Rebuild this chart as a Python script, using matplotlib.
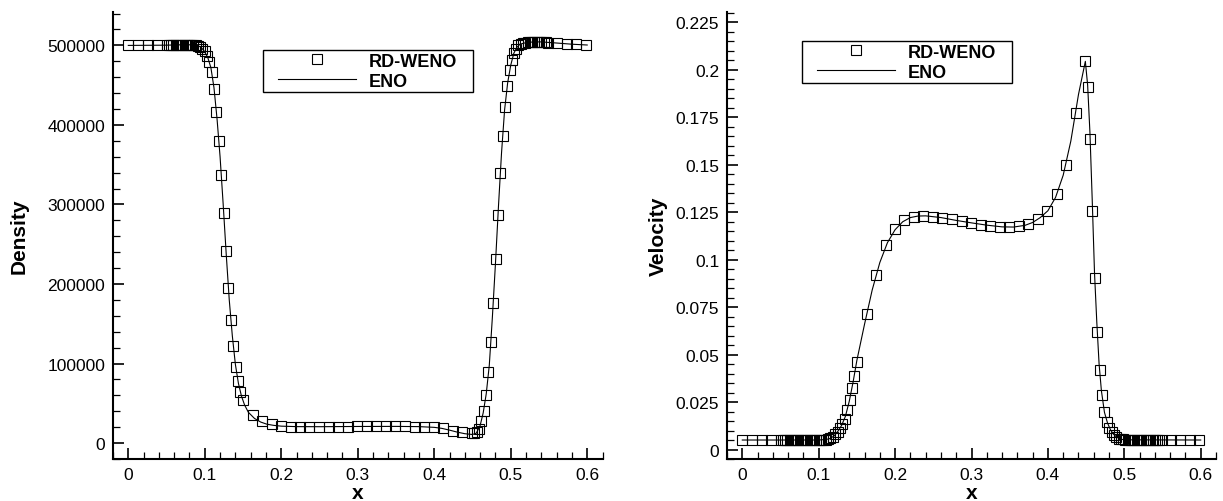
import matplotlib
matplotlib.use("Agg")
import matplotlib.pyplot as plt
from matplotlib.ticker import MultipleLocator, FuncFormatter
from matplotlib.legend_handler import HandlerLine2D
from matplotlib.lines import Line2D

plt.rcParams['font.family'] = ['Liberation Sans', 'DejaVu Sans']

# ---- RD-WENO solution at the cell centres (same mesh for both fields) ----
x_rdweno = [
    0.0, 0.0126, 0.0253, 0.038,
    0.0503, 0.0532, 0.0561, 0.059, 0.0619, 0.0648, 0.0677, 0.0706, 0.0735,
    0.0764, 0.0793, 0.0822, 0.0851, 0.088, 0.0909,
    0.0939, 0.0969, 0.0999, 0.103, 0.106, 0.109, 0.112, 0.1152, 0.1183,
    0.1215, 0.1247, 0.1278, 0.1309, 0.134, 0.1373, 0.1404, 0.1435, 0.1465, 0.1496,
    0.1626, 0.1752, 0.1878, 0.2, 0.2122, 0.2245, 0.2368, 0.2494, 0.262, 0.2744,
    0.287, 0.2992, 0.3118, 0.3243, 0.3367, 0.3492, 0.3618, 0.3744, 0.3867,
    0.3993, 0.412, 0.4243, 0.4368,
    0.449, 0.4522, 0.4553, 0.4583, 0.4613, 0.4645, 0.4677, 0.4708, 0.474,
    0.4772, 0.4803, 0.4834, 0.4864, 0.4894, 0.4924, 0.4955, 0.4985, 0.5015,
    0.5042, 0.507, 0.51,
    0.513, 0.516, 0.519, 0.522, 0.525, 0.528, 0.531, 0.534, 0.537, 0.54,
    0.543, 0.546, 0.549,
    0.5605, 0.573, 0.5855, 0.598,
]

density_rdweno = [
    500000, 500000, 500000, 500200,
    500300, 500400, 500500, 500600, 500700, 500800, 500900, 501000, 501000,
    501000, 500900, 500700, 500400, 500000, 499400,
    498300, 496000, 492500, 487000, 479500, 466000, 445000, 416000, 380000,
    337000, 289000, 241000, 195000, 154500, 121800, 96000, 77700, 64600, 54500,
    35600, 27700, 24300, 21400, 20800, 20500, 20500, 20600, 20700, 20800,
    20800, 20900, 21000, 21000, 21000, 21000, 20900, 20700, 20300,
    19700, 18500, 15800, 13400,
    12200, 12600, 14200, 17600, 28100, 40300, 60500, 89000, 127600,
    176000, 231000, 287000, 340000, 386000, 422000, 449000, 468500, 481500,
    490800, 496000, 500000,
    501500, 502500, 503300, 503800, 504200, 504400, 504500, 504500, 504400, 504200,
    504000, 503700, 503400,
    503000, 502000, 501200, 500600,
]

velocity_rdweno = [
    0.005, 0.005, 0.005, 0.005,
    0.005, 0.005, 0.005, 0.005, 0.005, 0.005, 0.005, 0.005, 0.005,
    0.005, 0.005, 0.005, 0.005, 0.005, 0.005,
    0.005, 0.005, 0.005, 0.005, 0.0051, 0.0052, 0.0055, 0.006, 0.0068,
    0.008, 0.0094, 0.0111, 0.0133, 0.0163, 0.0206, 0.0261, 0.0322, 0.0389, 0.0462,
    0.0713, 0.0921, 0.1075, 0.1163, 0.1207, 0.1225, 0.123, 0.1227, 0.1219, 0.1212,
    0.1203, 0.1194, 0.1185, 0.1178, 0.1173, 0.1173, 0.1177, 0.1189, 0.1212,
    0.1258, 0.1344, 0.1501, 0.1774,
    0.2045, 0.1912, 0.1635, 0.1259, 0.0904, 0.062, 0.0418, 0.0285, 0.0196,
    0.0144, 0.0111, 0.0092, 0.0078, 0.0065, 0.0058, 0.0055, 0.0053, 0.0052,
    0.0051, 0.005, 0.005,
    0.005, 0.005, 0.005, 0.005, 0.005, 0.005, 0.005, 0.005, 0.005, 0.005,
    0.005, 0.005, 0.005,
    0.005, 0.005, 0.005, 0.005,
]

# ---- ENO reference solution ----
x_eno_density = [
    0, 0.05, 0.075, 0.085, 0.09, 0.095, 0.1, 0.104, 0.108, 0.112,
    0.116, 0.12, 0.124, 0.128, 0.132, 0.136, 0.14, 0.144, 0.148, 0.152,
    0.157, 0.165, 0.173, 0.181, 0.19, 0.2, 0.22, 0.25, 0.3, 0.35,
    0.38, 0.4, 0.41, 0.42, 0.43, 0.44, 0.45, 0.455, 0.46, 0.464,
    0.468, 0.472, 0.476, 0.48, 0.484, 0.488, 0.492, 0.496, 0.5, 0.504,
    0.508, 0.512, 0.52, 0.53, 0.54, 0.56, 0.58, 0.6,
]
density_eno = [
    500000, 500300, 500900, 500600, 500000, 497800, 492000, 484500, 472000, 447000,
    408000, 360000, 301000, 238000, 180000, 135000, 99000, 75000, 59000, 48000,
    38700, 31000, 26500, 23800, 22300, 21300, 20700, 20600, 20900, 21000,
    20700, 19800, 18500, 16300, 13800, 11800, 10800, 12500, 22000, 38000,
    62000, 98000, 158000, 225000, 298000, 365000, 419000, 453000, 475000, 490000,
    497500, 501500, 503500, 504400, 504400, 503000, 501500, 500500,
]

x_eno_velocity = [
    0, 0.1, 0.11, 0.115, 0.12, 0.125, 0.13, 0.135, 0.14, 0.145,
    0.15, 0.16, 0.17, 0.18, 0.19, 0.2, 0.21, 0.22, 0.23, 0.24,
    0.26, 0.28, 0.3, 0.32, 0.34, 0.355, 0.37, 0.38, 0.39, 0.4,
    0.41, 0.42, 0.43, 0.44, 0.449, 0.452, 0.455, 0.458, 0.461, 0.464,
    0.467, 0.47, 0.474, 0.478, 0.482, 0.486, 0.49, 0.495, 0.5, 0.6,
]
velocity_eno = [
    0.005, 0.005, 0.0053, 0.0058, 0.0071, 0.0095, 0.0127, 0.0175, 0.0254, 0.0355,
    0.047, 0.066, 0.084, 0.0985, 0.109, 0.1158, 0.12, 0.1222, 0.123, 0.1231,
    0.1222, 0.1207, 0.1194, 0.1182, 0.1173, 0.1172, 0.1181, 0.1196, 0.1222, 0.1258,
    0.1328, 0.1445, 0.1625, 0.187, 0.2045, 0.192, 0.167, 0.1315, 0.093, 0.067,
    0.045, 0.031, 0.0196, 0.014, 0.0103, 0.008, 0.0065, 0.0055, 0.0051, 0.005,
]

x_ticks = [0, 0.1, 0.2, 0.3, 0.4, 0.5, 0.6]
density_ticks = [0, 100000, 200000, 300000, 400000, 500000]
velocity_ticks = [0, 0.025, 0.05, 0.075, 0.1, 0.125, 0.15, 0.175, 0.2, 0.225]

W, H = 1223, 502
fig = plt.figure(figsize=(W / 100, H / 100), dpi=100)


def px_axes(x0, x1, ytop, ybot):
    return fig.add_axes([x0 / W, 1 - ybot / H, (x1 - x0) / W, (ybot - ytop) / H])


ax1 = px_axes(113, 602.5, 13, 460)
ax2 = px_axes(727, 1216, 13, 460)

fmt = FuncFormatter(lambda v, p: '%g' % v)


def style(ax, yticks, yminor, ylim, ylabel, label_x, legend_box):
    m, = ax.plot(x_rdweno, yvals[ax], ls='none', marker='s', ms=6.6,
                 mfc='none', mec='black', mew=0.8, label='RD-WENO')
    l, = ax.plot(eno_x[ax], eno_y[ax], color='black', lw=0.8, label='ENO')
    ax.set_xlim(-0.02, 0.62)
    ax.set_ylim(*ylim)
    ax.set_xticks(x_ticks)
    ax.set_yticks(yticks)
    ax.xaxis.set_minor_locator(MultipleLocator(0.02))
    ax.yaxis.set_minor_locator(MultipleLocator(yminor))
    ax.xaxis.set_major_formatter(fmt)
    ax.yaxis.set_major_formatter(fmt)
    for s in ('top', 'right'):
        ax.spines[s].set_visible(False)
    for s in ('left', 'bottom'):
        ax.spines[s].set_linewidth(1.5)
    ax.tick_params(which='both', direction='in', top=False, right=False)
    ax.tick_params(which='major', length=7.7, width=1.2, labelsize=12.5)
    ax.tick_params(which='minor', length=4.8, width=0.9)
    ax.tick_params(axis='y', which='major', pad=5.5)
    ax.tick_params(axis='x', which='major', pad=5.5)
    ax.set_xlabel('x', fontsize=15, fontweight='bold', labelpad=1)
    ax.set_ylabel(ylabel, fontsize=15, fontweight='bold')
    ax.yaxis.set_label_coords(label_x, 0.5)
    fs = 13
    ax.legend(handles=[m, l], loc='upper left', bbox_to_anchor=legend_box,
              mode='expand', borderaxespad=0, frameon=True, fancybox=False,
              edgecolor='black', framealpha=1, borderpad=0.15,
              labelspacing=0.17, handlelength=5.0, handletextpad=0.72,
              prop={'weight': 'bold', 'size': fs},
              handler_map={Line2D: HandlerLine2D(numpoints=1, xpad=0.68)}
              ).get_frame().set_linewidth(1.0)


yvals = {ax1: density_rdweno, ax2: velocity_rdweno}
eno_x = {ax1: x_eno_density, ax2: x_eno_velocity}
eno_y = {ax1: density_eno, ax2: velocity_eno}

style(ax1, density_ticks, 20000, (-20000, 542000), 'Density', -0.172,
      (0.3064, 0.8166, 0.429, 0.0984))
style(ax2, velocity_ticks, 0.005, (-0.005, 0.2305), 'Velocity', -0.121,
      (0.1534, 0.8412, 0.4294, 0.0939))

fig.savefig('out.png', dpi=100)
